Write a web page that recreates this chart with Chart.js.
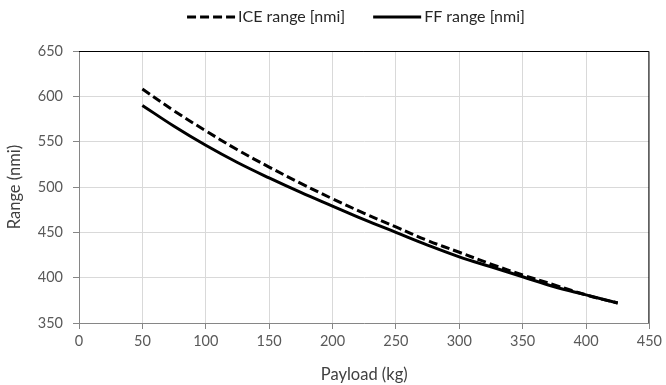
<!DOCTYPE html>
<html>
<head>
<meta charset="utf-8">
<script src="https://cdn.jsdelivr.net/npm/chart.js@4.4.1/dist/chart.umd.min.js"></script>
<style>
  html, body { margin: 0; padding: 0; background: #fff; }
  #wrap { width: 666px; height: 385px; }
</style>
</head>
<body>
<div id="wrap"><canvas id="rangeChart"></canvas></div>
<script>
// payload (kg) vs range (nmi)
const payload = [50, 75, 100, 125, 150, 175, 200, 225, 250, 275, 300, 325, 350, 375, 400, 425]
const iceRange = [608, 584, 562, 541, 522, 504, 487, 471, 456, 441, 428, 415, 403, 392, 381, 372]
const ffRange = [590, 567, 546, 527, 510, 494, 479, 464, 450, 436, 423, 412, 401, 390, 381, 372]
const xTicks = [0, 50, 100, 150, 200, 250, 300, 350, 400, 450]
const yTicks = [350, 400, 450, 500, 550, 600, 650]

const font = "Lato, 'Open Sans', sans-serif"
const dash = [9, 4]

function toPoints(xs, ys) {
	return xs.map((x, i) => ({ x: x, y: ys[i] }))
}

// black frame on top and right of the plot area
const frame = {
	id: "frame",
	afterDraw(chart) {
		const { ctx, chartArea: a } = chart
		ctx.save()
		ctx.strokeStyle = "#000"
		ctx.lineWidth = 1
		ctx.beginPath()
		ctx.moveTo(a.left, a.top + 0.5)
		ctx.lineTo(a.right - 0.5, a.top + 0.5)
		ctx.lineTo(a.right - 0.5, a.bottom)
		ctx.stroke()
		ctx.restore()
	}
}

// legend drawn by hand so the dashed swatch stays dashed
const lineLegend = {
	id: "lineLegend",
	afterDraw(chart) {
		const { ctx } = chart
		const sets = chart.data.datasets
		const swatch = 48
		const gap = 3
		const spacing = 28
		const y = 17
		ctx.save()
		ctx.font = "16px " + font
		ctx.textBaseline = "middle"
		let total = 0
		sets.forEach((ds, i) => {
			total += swatch + gap + ctx.measureText(ds.label).width
			if (i > 0) total += spacing
		})
		let x = 356 - total / 2
		sets.forEach(ds => {
			ctx.strokeStyle = ds.borderColor
			ctx.lineWidth = 3
			ctx.setLineDash(ds.borderDash || [])
			ctx.beginPath()
			ctx.moveTo(x, y)
			ctx.lineTo(x + swatch, y)
			ctx.stroke()
			x += swatch + gap
			ctx.fillStyle = "#262626"
			ctx.fillText(ds.label, x, y)
			x += ctx.measureText(ds.label).width + spacing
		})
		ctx.restore()
	}
}

const ctx = document.getElementById("rangeChart").getContext("2d")
new Chart(ctx, {
	type: "scatter",
	data: {
		datasets: [
			{
				label: "ICE range [nmi]",
				data: toPoints(payload, iceRange),
				showLine: true,
				borderColor: "#000",
				backgroundColor: "#000",
				borderWidth: 3,
				borderDash: dash,
				pointRadius: 0,
				tension: 0.4,
			},
			{
				label: "FF range [nmi]",
				data: toPoints(payload, ffRange),
				showLine: true,
				borderColor: "#000",
				backgroundColor: "#000",
				borderWidth: 3,
				pointRadius: 0,
				tension: 0.4,
			},
		],
	},
	options: {
		responsive: true,
		maintainAspectRatio: false,
		animation: false,
		layout: { padding: { left: 0, right: 16, top: 51, bottom: 0 } },
		plugins: {
			tooltip: { enabled: false },
			legend: { display: false },
		},
		scales: {
			x: {
				type: "linear",
				min: 0,
				max: 450,
				afterBuildTicks: axis => { axis.ticks = xTicks.map(v => ({ value: v })) },
				afterFit: axis => { axis.height = 62 },
				grid: { color: "#d9d9d9", tickColor: "#868686", tickLength: 6 },
				border: { color: "#868686" },
				ticks: { color: "#595959", font: { family: font, size: 14.5 }, padding: 4, maxRotation: 0 },
				title: { display: true, text: "Payload (kg)", color: "#404040", font: { family: font, size: 16.5 }, padding: { top: 15, bottom: 0 } },
			},
			y: {
				min: 350,
				max: 650,
				afterBuildTicks: axis => { axis.ticks = yTicks.map(v => ({ value: v })) },
				afterFit: axis => { axis.width = 79 },
				grid: { color: "#d9d9d9", tickColor: "#868686", tickLength: 6 },
				border: { color: "#868686" },
				ticks: { color: "#595959", font: { family: font, size: 14.5 }, padding: 10 },
				title: { display: true, text: "Range (nmi)", color: "#404040", font: { family: font, size: 16.5 }, padding: { top: 5, bottom: 0 } },
			},
		},
	},
	plugins: [frame, lineLegend],
})
</script>
</body>
</html>
